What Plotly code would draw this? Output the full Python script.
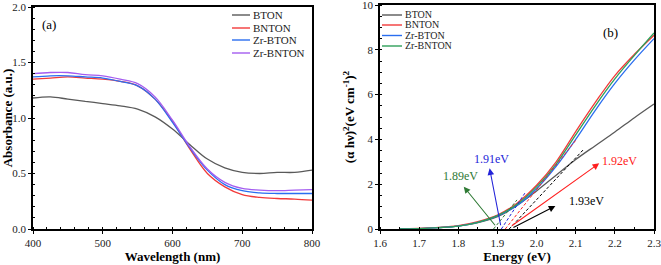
import plotly.graph_objects as go

# ---------------- data: panel (a) ----------------
wl = [400, 425, 450, 475, 500, 525, 550, 575, 600, 625, 650, 675, 700, 725, 750, 775, 800]
abs_bton = [1.18, 1.19, 1.17, 1.15, 1.13, 1.11, 1.08, 1.01, 0.90, 0.76, 0.63, 0.55, 0.51, 0.50, 0.51, 0.51, 0.53]
abs_bnton = [1.35, 1.36, 1.37, 1.36, 1.35, 1.33, 1.29, 1.17, 0.97, 0.72, 0.50, 0.38, 0.31, 0.285, 0.275, 0.27, 0.26]
abs_zrbton = [1.37, 1.38, 1.38, 1.37, 1.36, 1.33, 1.29, 1.17, 0.96, 0.73, 0.53, 0.40, 0.345, 0.325, 0.32, 0.32, 0.32]
abs_zrbnton = [1.40, 1.41, 1.41, 1.39, 1.38, 1.35, 1.31, 1.19, 0.98, 0.74, 0.54, 0.42, 0.365, 0.35, 0.345, 0.35, 0.355]

# ---------------- data: panel (b) ----------------
energy = [1.65, 1.70, 1.75, 1.80, 1.85, 1.90, 1.95, 2.00, 2.05, 2.10, 2.15, 2.20, 2.25, 2.30]
t_bton = [0.0, 0.02, 0.06, 0.13, 0.28, 0.55, 1.05, 1.70, 2.40, 3.10, 3.72, 4.33, 4.97, 5.58]
t_bnton = [0.0, 0.03, 0.07, 0.15, 0.33, 0.62, 1.15, 1.95, 3.00, 4.35, 5.65, 6.85, 7.80, 8.65]
t_zrbton = [0.0, 0.02, 0.06, 0.13, 0.30, 0.58, 1.05, 1.80, 2.80, 4.00, 5.30, 6.50, 7.55, 8.50]
t_zrbnton = [0.0, 0.02, 0.06, 0.13, 0.30, 0.60, 1.10, 1.88, 2.90, 4.20, 5.50, 6.70, 7.75, 8.75]

names = ["BTON", "BNTON", "Zr-BTON", "Zr-BNTON"]
colors_a = ["#595959", "#f23a3a", "#2a6ef0", "#a45cf0"]
colors_b = ["#595959", "#f23a3a", "#2a6ef0", "#2ea05a"]

# band gaps (x-intercepts) and tangent end points
gaps = [1.93, 1.92, 1.91, 1.89]
tan_end_x = [2.12, 2.10, 1.97, 1.95]
tan_end_y = [3.55, 3.96, 1.60, 1.30]
gap_labels = ["1.93eV", "1.92eV", "1.91eV", "1.89eV"]
arrow_col = ["#000000", "#ff2020", "#2323d8", "#2f7a35"]
arrow_tail_x = [1.937, 1.933, 1.909, 1.897]
arrow_tail_y = [0.03, 0.10, 0.10, 0.10]
arrow_head_x = [2.048, 2.160, 1.880, 1.814]
arrow_head_y = [1.03, 2.93, 2.71, 1.89]
label_x = [2.128, 2.212, 1.886, 1.806]
label_y = [1.26, 3.04, 3.11, 2.38]

FONT = "Liberation Serif"
W, H = 661, 265


def px(x):
    return x / W


def py(y):
    return 1 - y / H


fig = go.Figure()

for n, y, c in zip(names, [abs_bton, abs_bnton, abs_zrbton, abs_zrbnton], colors_a):
    fig.add_trace(go.Scatter(x=wl, y=y, mode="lines", name=n, line=dict(color=c, width=1.3, shape="spline"),
                             xaxis="x", yaxis="y", showlegend=False))

for n, y, c in zip(names, [t_bton, t_bnton, t_zrbton, t_zrbnton], colors_b):
    fig.add_trace(go.Scatter(x=energy, y=y, mode="lines", name=n, line=dict(color=c, width=1.3, shape="spline"),
                             xaxis="x2", yaxis="y2", showlegend=False))

# tangent dashed lines
for g, ex, ey, c in zip(gaps, tan_end_x, tan_end_y, arrow_col):
    fig.add_trace(go.Scatter(x=[g, ex], y=[0, ey], mode="lines", showlegend=False,
                             line=dict(color=c, width=1, dash="3px,2px"), xaxis="x2", yaxis="y2"))

ann = []
shapes = []
for tx, ty, hx, hy, c in zip(arrow_tail_x, arrow_tail_y, arrow_head_x, arrow_head_y, arrow_col):
    ann.append(dict(x=hx, y=hy, ax=tx, ay=ty, xref="x2", yref="y2", axref="x2", ayref="y2",
                    text="", showarrow=True, arrowhead=2, arrowsize=1.2, arrowwidth=1.1, arrowcolor=c))
for t, lx, ly, c in zip(gap_labels, label_x, label_y, arrow_col):
    ann.append(dict(x=lx, y=ly, xref="x2", yref="y2", text=t, showarrow=False,
                    font=dict(family=FONT, size=12, color=c)))
ann.append(dict(x=px(40), y=py(15), xref="paper", yref="paper", text="(a)", showarrow=False, xanchor="left",
                font=dict(family=FONT, size=13, color="black")))
ann.append(dict(x=px(620), y=py(23), xref="paper", yref="paper", text="(b)", showarrow=False,
                font=dict(family=FONT, size=13, color="black")))

# legends (panel a and panel b)
leg_a_rows = [15, 28, 40, 53]
leg_b_rows = [15, 25, 35.5, 46]
for n, c, r in zip(names, colors_a, leg_a_rows):
    shapes.append(dict(type="line", xref="paper", yref="paper", x0=px(232), x1=px(250), y0=py(r), y1=py(r),
                       line=dict(color=c, width=1.4)))
    ann.append(dict(x=px(251), y=py(r), xref="paper", yref="paper", text=n, showarrow=False,
                    xanchor="left", yanchor="middle", font=dict(family=FONT, size=11, color="#222")))
for n, c, r in zip(names, colors_b, leg_b_rows):
    shapes.append(dict(type="line", xref="paper", yref="paper", x0=px(382), x1=px(402), y0=py(r), y1=py(r),
                       line=dict(color=c, width=1.4)))
    ann.append(dict(x=px(403), y=py(r), xref="paper", yref="paper", text=n, showarrow=False,
                    xanchor="left", yanchor="middle", font=dict(family=FONT, size=10, color="#222")))

axis_common = dict(showline=True, linecolor="black", linewidth=1.5, mirror=True, showgrid=False, zeroline=False,
                   automargin=False, ticklabeloverflow="allow",
                   ticks="outside", ticklen=3, tickwidth=1.2, tickcolor="black",
                   tickfont=dict(family=FONT, size=11, color="#222"),
                   minor=dict(ticks="inside", ticklen=2, tickwidth=1, tickcolor="black"))

fig.update_layout(
    template="none",
    width=W, height=H,
    margin=dict(l=0, r=0, t=0, b=0),
    paper_bgcolor="white", plot_bgcolor="white",
    showlegend=False,
    xaxis=dict(domain=[px(33), px(312)], range=[400, 800], tickvals=[400, 500, 600, 700, 800],
               title=dict(text="<b>Wavelength (nm)</b>", font=dict(family=FONT, size=13, color="black"), standoff=3),
               anchor="y", **axis_common),
    yaxis=dict(domain=[1 - 229/H, 1 - 7/H], range=[0, 2.0], tickvals=[0, 0.5, 1.0, 1.5, 2.0], tickformat=".1f",
               title=dict(text="<b>Absorbance (a.u.)</b>", font=dict(family=FONT, size=13, color="black"), standoff=4),
               anchor="x", **axis_common),
    xaxis2=dict(domain=[px(380), px(654)], range=[1.6, 2.3], tickvals=[1.6, 1.7, 1.8, 1.9, 2.0, 2.1, 2.2, 2.3],
                tickformat=".1f",
                title=dict(text="<b>Energy (eV)</b>", font=dict(family=FONT, size=13, color="black"), standoff=3),
                anchor="y2", **axis_common),
    yaxis2=dict(domain=[1 - 229/H, 1 - 5/H], range=[0, 10], tickvals=[0, 2, 4, 6, 8, 10],
                title=dict(text="<b>(α hν)<sup>2</sup>(eV cm<sup>-1</sup>)<sup>2</sup></b>",
                           font=dict(family=FONT, size=13, color="black"), standoff=4),
                anchor="x2", **axis_common),
    annotations=ann,
    shapes=shapes,
)

fig.write_html("out.html", config={"displayModeBar": False},
               post_script="document.body.style.margin='0';document.body.style.overflow='hidden';")
